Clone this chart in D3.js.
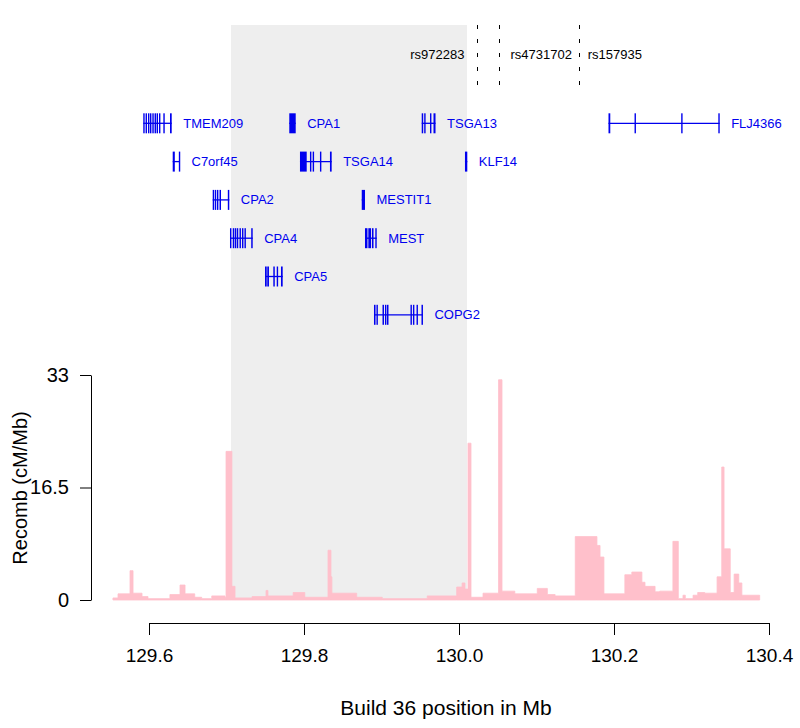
<!DOCTYPE html>
<html>
<head>
<meta charset="utf-8">
<script src="https://cdn.jsdelivr.net/npm/d3@7"></script>
<style>
  html, body { margin: 0; padding: 0; background: #fff; }
  svg { display: block; font-family: "Liberation Sans", Arial, Helvetica, sans-serif; }
</style>
</head>
<body>
<svg id="chart" width="800" height="728"></svg>
<script>
// ---------------- DATA ----------------
const xTicks = [129.6, 129.8, 130.0, 130.2, 130.4];
const yTicks = [0, 16.5, 33];
const xTitle = "Build 36 position in Mb";
const yTitle = "Recomb (cM/Mb)";

// highlighted interval (Mb)
const highlight = [129.7058, 130.0103];

// SNPs
const snpNames = ["rs972283", "rs4731702", "rs157935"];
const snpPos   = [130.0226, 130.0510, 130.1544];
const snpSide  = ["left", "right", "right"];

// Recombination rate: step starts (Mb) and values (cM/Mb)
const recombPos = [129.5535, 129.5600, 129.5755, 129.5794, 129.5910, 129.5987, 129.6270, 129.6400, 129.6465,
  129.6590, 129.6680, 129.6810, 129.6980, 129.6994, 129.7070, 129.7110, 129.7330, 129.7510, 129.7535, 129.7860,
  129.8010, 129.8310, 129.8348, 129.8360, 129.8680, 129.9010, 129.9590, 129.9970, 130.0040, 130.0077, 130.0116,
  130.0155, 130.0310, 130.0510, 130.0555, 130.0720, 130.1010, 130.1140, 130.1240, 130.1500, 130.1780, 130.1820,
  130.1870, 130.2140, 130.2230, 130.2360, 130.2400, 130.2530, 130.2590, 130.2760, 130.2830, 130.2890, 130.2920,
  130.3020, 130.3080, 130.3170, 130.3330, 130.3390, 130.3420, 130.3500, 130.3550, 130.3610, 130.3650];
const recombVal = [0.3, 0.9, 4.3, 1.0, 0.5, 0.2, 0.8, 2.2, 0.9,
  0.4, 0.2, 0.6, 0.4, 21.8, 2.0, 0.3, 0.5, 1.4, 0.6, 1.1,
  0.4, 7.3, 3.4, 1.0, 0.4, 0.2, 0.6, 1.9, 2.5, 1.6, 23.0,
  0.4, 1.0, 32.3, 1.3, 0.9, 1.7, 0.8, 0.6, 9.3, 8.0, 6.3,
  0.9, 3.7, 4.1, 2.6, 2.0, 1.2, 1.3, 8.6, 0.2, 0.7, 0.2,
  0.7, 1.1, 1.0, 3.4, 19.5, 7.5, 1.1, 3.8, 2.5, 0.7];
const recombEnd = 130.388;

// Genes
const geneNames = ["TMEM209", "CPA1", "TSGA13", "FLJ4366", "C7orf45", "TSGA14", "KLF14",
                   "CPA2", "MESTIT1", "CPA4", "MEST", "CPA5", "COPG2"];
const geneRow   = [0, 0, 0, 0, 1, 1, 1, 2, 2, 3, 3, 4, 5];
const geneExons = [
  [[129.5926,129.5939],[129.5956,129.5969],[129.5987,129.6000],[129.6013,129.6026],[129.6043,129.6055],
   [129.6072,129.6085],[129.6098,129.6111],[129.6129,129.6142],[129.6185,129.6197],[129.6271,129.6293]],
  [[129.7810,129.7893]],
  [[129.9519,129.9538],[129.9551,129.9566],[129.9626,129.9641],[129.9671,129.9697]],
  [[130.1929,130.1952],[130.2265,130.2279],[130.2867,130.2881],[130.3346,130.3363]],
  [[129.6306,129.6333],[129.6385,129.6400]],
  [[129.7948,129.8035],[129.8077,129.8090],[129.8112,129.8125],[129.8206,129.8219],[129.8335,129.8357]],
  [[130.0077,130.0107]],
  [[129.6822,129.6839],[129.6849,129.6865],[129.6877,129.6894],[129.6910,129.6929],[129.7017,129.7036]],
  [[129.8745,129.8787]],
  [[129.7045,129.7061],[129.7081,129.7097],[129.7107,129.7123],[129.7133,129.7148],[129.7168,129.7183],
   [129.7200,129.7215],[129.7232,129.7248],[129.7319,129.7338]],
  [[129.8787,129.8819],[129.8830,129.8865],[129.8877,129.8897],[129.8920,129.8938]],
  [[129.7497,129.7519],[129.7526,129.7548],[129.7604,129.7623],[129.7648,129.7665],[129.7703,129.7725]],
  [[129.8903,129.8923],[129.8935,129.8948],[129.9013,129.9032],[129.9045,129.9058],[129.9071,129.9090],
   [129.9374,129.9390],[129.9406,129.9419],[129.9452,129.9467],[129.9516,129.9535]]
];

// ---------------- LAYOUT ----------------
const svg = d3.select("#chart");
const x = d3.scaleLinear().domain([129.6, 130.4]).range([149, 769]);
const y = d3.scaleLinear().domain([0, 33]).range([600, 375]);
const rowY = d3.scaleLinear().domain([0, 1]).range([123.3, 161.6]);
const geneColor = "#0000EE";

// highlight band
svg.append("rect")
  .attr("x", x(highlight[0])).attr("y", 25)
  .attr("width", x(highlight[1]) - x(highlight[0]))
  .attr("height", y(0) - 25)
  .attr("fill", "#EEEEEE");

// recomb area
const recData = recombPos.map((p, i) => ({pos: p, val: recombVal[i]}));
recData.push({pos: recombEnd, val: recombVal[recombVal.length - 1]});
const area = d3.area()
  .x(d => x(d.pos)).y0(y(0)).y1(d => y(d.val))
  .curve(d3.curveStepAfter);
svg.append("path").datum(recData)
  .attr("d", area)
  .attr("fill", "#FFC0CB")
  .attr("stroke", "#FFC0CB").attr("stroke-width", 0.8);

// SNP lines
const snpG = svg.append("g");
snpPos.forEach((p, i) => {
  const xp = Math.round(x(p)) + 0.5;
  snpG.append("line")
    .attr("x1", xp).attr("x2", xp).attr("y1", 25).attr("y2", 88)
    .attr("stroke", "#000").attr("stroke-width", 1)
    .attr("stroke-dasharray", "4,10");
  const left = snpSide[i] === "left";
  snpG.append("text")
    .attr("x", left ? x(p) - 12 : x(p) + (i === 2 ? 9 : 12))
    .attr("y", 54)
    .attr("dy", "0.35em")
    .attr("text-anchor", left ? "end" : "start")
    .attr("font-size", 13)
    .attr("fill", "#000")
    .text(snpNames[i]);
});

// genes
const gG = svg.append("g");
geneNames.forEach((name, i) => {
  const ex = geneExons[i];
  const s = ex[0][0], e = ex[ex.length - 1][1];
  const cy = rowY(geneRow[i]);
  gG.append("line")
    .attr("x1", x(s)).attr("x2", x(e)).attr("y1", cy).attr("y2", cy)
    .attr("stroke", geneColor).attr("stroke-width", 1.3);
  ex.forEach(([a, b]) => {
    const w = Math.max(x(b) - x(a), 1.4);
    gG.append("rect")
      .attr("x", x(a)).attr("y", cy - 10)
      .attr("width", w).attr("height", 20)
      .attr("fill", geneColor);
  });
  gG.append("text")
    .attr("x", x(e) + 11.5).attr("y", cy)
    .attr("dy", "0.35em")
    .attr("font-size", 13)
    .attr("fill", geneColor)
    .text(name);
});

// y axis
const yAxis = d3.axisLeft(y).tickValues(yTicks)
  .tickFormat(d => d3.format("")(d))
  .tickSize(11).tickSizeOuter(0).tickPadding(11);
const yg = svg.append("g").attr("transform", "translate(91,0)").call(yAxis);
yg.selectAll("text").attr("font-size", 20).attr("font-family", "Liberation Sans, Arial, sans-serif").attr("fill", "#000");
yg.selectAll("line,path").attr("stroke", "#000");

// x axis
const xAxis = d3.axisBottom(x).tickValues(xTicks)
  .tickFormat(d3.format(".1f"))
  .tickSize(12).tickSizeOuter(0).tickPadding(14);
const xg = svg.append("g").attr("transform", "translate(0,623)").call(xAxis);
xg.selectAll("text").attr("font-size", 19).attr("font-family", "Liberation Sans, Arial, sans-serif").attr("fill", "#000");
xg.selectAll("line,path").attr("stroke", "#000");

// titles
svg.append("text")
  .attr("x", 446).attr("y", 715)
  .attr("text-anchor", "middle")
  .attr("font-size", 21)
  .attr("fill", "#000")
  .text(xTitle);
svg.append("text")
  .attr("transform", "translate(27,488) rotate(-90)")
  .attr("text-anchor", "middle")
  .attr("font-size", 20)
  .attr("fill", "#000")
  .text(yTitle);
</script>
</body>
</html>
